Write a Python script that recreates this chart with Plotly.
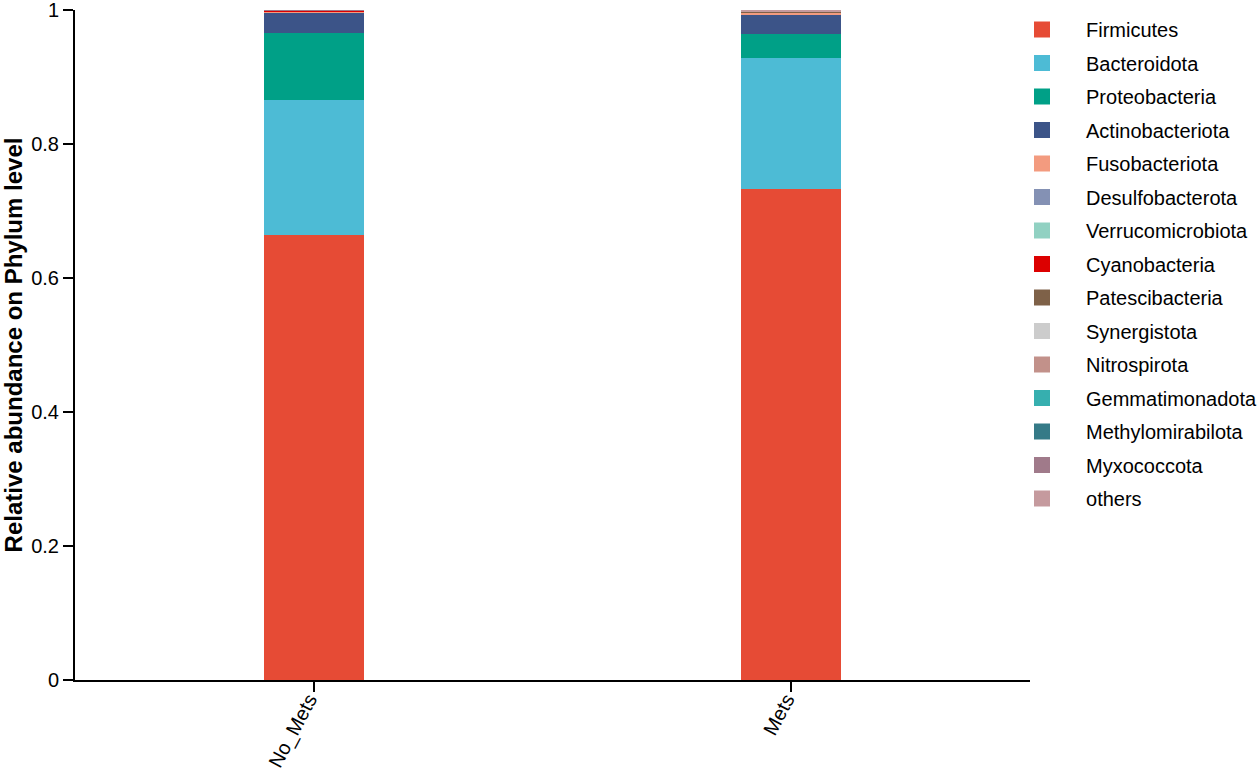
import plotly.graph_objects as go

groups = ["No_Mets", "Mets"]
phyla = ["Firmicutes", "Bacteroidota", "Proteobacteria", "Actinobacteriota",
         "Fusobacteriota", "Desulfobacterota", "Verrucomicrobiota", "Cyanobacteria",
         "Patescibacteria", "Synergistota", "Nitrospirota", "Gemmatimonadota",
         "Methylomirabilota", "Myxococcota", "others"]
no_mets = [0.664, 0.202, 0.100, 0.031, 0.0008, 0.0004, 0.0002, 0.0008,
           0.0001, 0.0001, 0.0003, 0.0001, 0.0001, 0.0001, 0.0010]
mets = [0.733, 0.196, 0.035, 0.0285, 0.0035, 0.0005, 0.0003, 0.0002,
        0.0001, 0.0001, 0.0004, 0.0001, 0.0001, 0.0001, 0.0025]
colors = ["#E64B35", "#4DBBD5", "#00A087", "#3C5488", "#F39B7F", "#8491B4",
          "#91D1C2", "#DC0000", "#7E6148", "#CCCCCC", "#C2918A", "#36AFAF",
          "#357A87", "#A07A8A", "#C59A9E"]

fig = go.Figure()
for i, name in enumerate(phyla):
    fig.add_trace(go.Bar(
        x=groups, y=[no_mets[i], mets[i]], name=name,
        marker=dict(color=colors[i], line=dict(width=0)),
        width=0.21, legendgroup=name, showlegend=False,
    ))
# legend entries with larger square swatches
for i, name in enumerate(phyla):
    fig.add_trace(go.Scatter(
        x=[None], y=[None], mode="markers", name=name,
        marker=dict(symbol="square", size=20, color=colors[i]),
        legendgroup=name, showlegend=True,
    ))

font = "Liberation Sans, Arial, sans-serif"
fig.update_layout(
    width=1259, height=771,
    barmode="stack",
    plot_bgcolor="white", paper_bgcolor="white",
    margin=dict(l=75, r=229, t=10, b=91, autoexpand=False),
    font=dict(family=font, size=20, color="black"),
    showlegend=True,
    legend=dict(
        traceorder="grouped", x=0.9665, xanchor="left", y=1.0, yanchor="top",
        font=dict(family=font, size=20, color="black"),
        tracegroupgap=4.5, itemsizing="trace", itemwidth=78,
        bgcolor="rgba(0,0,0,0)",
    ),
    xaxis=dict(
        type="category", range=[-0.5, 1.5], automargin=False,
        showline=True, linecolor="black", linewidth=2,
        ticks="outside", ticklen=10, tickwidth=2, tickcolor="black",
        tickangle=-62, showgrid=False, zeroline=False,
        tickfont=dict(family=font, size=20),
        ticklabelstandoff=-12, ticklabelshift=-5,
    ),
    yaxis=dict(
        range=[0, 1], dtick=0.2, tick0=0, automargin=False,
        showline=True, linecolor="black", linewidth=2,
        ticks="outside", ticklen=10, tickwidth=2, tickcolor="black",
        showgrid=False, zeroline=False, ticklabeloverflow="allow",
        tickfont=dict(family=font, size=20),
        title=dict(text="<b>Relative abundance on Phylum level</b>",
                   font=dict(family=font, size=24), standoff=10),
    ),
)

fig.write_html("out.html", config={"displayModeBar": False},
               post_script="document.body.style.margin='0';")
